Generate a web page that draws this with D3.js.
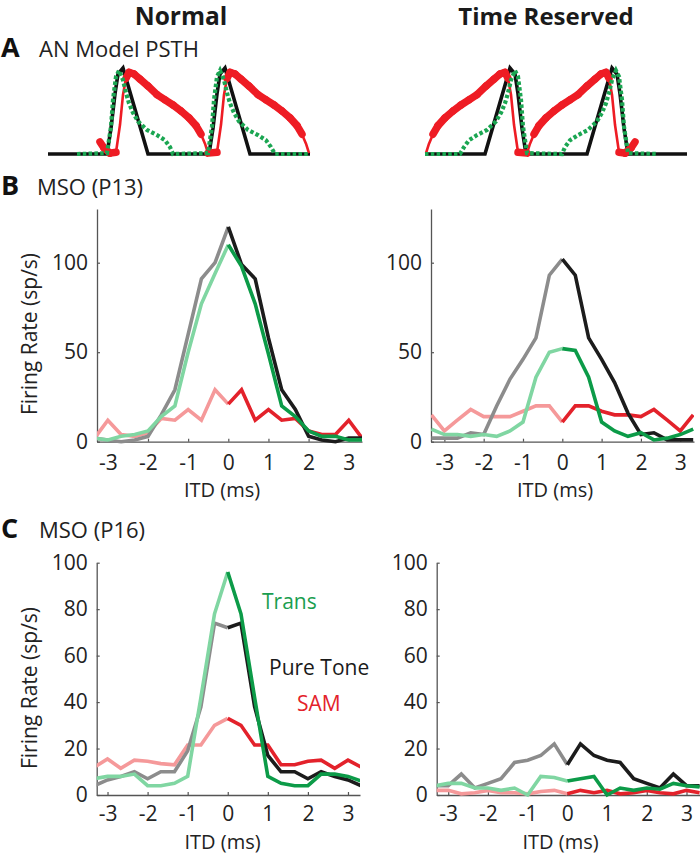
<!DOCTYPE html>
<html><head><meta charset="utf-8">
<script src="https://cdn.jsdelivr.net/npm/d3@7"></script>
<style>
body{margin:0;background:#fff}
svg{display:block}
text{font-family:"Open Sans",sans-serif}
</style>
</head><body>
<svg id="c" width="700" height="855"></svg>
<script>
// ---------- DATA ----------
const itd = [-3.33,-3,-2.67,-2.33,-2,-1.67,-1.33,-1,-0.67,-0.33,0,0.33,0.67,1,1.33,1.67,2,2.33,2.67,3,3.33];
const xTicks = [-3,-2,-1,0,1,2,3];
const xTickLabels = ["-3","-2","-1","0","1","2","3"];
const yTicksB = [0,50,100];
const yTicksC = [0,20,40,60,80,100];

// MSO (P13)
const pureP13Normal  = [2,1,0,1,3,15,29,60,91,100,120,99,91,58,29,18,3,1,0,2,2];
const transP13Normal = [2,1,3,4,6,14,20,50,77,94,110,98,77,49,20,14,6,3,3,1,1];
const samP13Normal   = [2,12,4,3,5,13,12,18,12,29,21,29,12,18,12,13,6,4,4,12,2];
const pureP13TR      = [2,2,2,5,4,20,35,46,58,93,102,93,58,46,33,16,4,5,1,1,1];
const transP13TR     = [7,4,4,3,4,3,6,11,36,50,52,51,36,11,6,3,5,1,2,4,7];
const samP13TR       = [15,6,12,18,14,14,14,17,20,20,11,20,20,17,15,15,14,18,12,6,15];
// MSO (P16)
const pureP16Normal  = [4,6.5,8,10,7,10,10,19,38,74,72,74,38,17,10,10,7,10,8,6.5,4];
const transP16Normal = [7,8,8,9,4,4,5,8,42,78,96,78,42,8,5,4,4,9,9,8,6];
const samP16Normal   = [12,15.5,11.5,15,14.5,13.5,13,21.5,21.5,30,33,30,21.5,21.5,13,13,14.5,15,11.5,15,12];
const pureP16TR      = [4,4,9,3,5,7,14,15,17,22,13,22,17,15,14,7,5,3,9,4,4];
const transP16TR     = [4,5,5,3,3,2,3,0,8,7.5,6,7,8,0,3,2,3,2.5,5,4,3.5];
const samP16TR       = [2,2,0.5,1,2,1,1,0.5,1.5,2,0.5,2,1,2,0.5,1,2,1,0.5,2,1];

// AN model PSTH: [time bin, normalized rate]
const psthPureNormal = [[0,0],[59,0],[63,.3],[67,.7],[70,.93],[75,1],[100,0],[161,0],[165,.3],[169,.7],[172,.93],[177,1],[202,0],[262,0]];
const psthTransNormal = [[29,0],[59,.01],[63,.32],[65,.63],[68,.9],[71,.97],[75,.86],[78,.71],[81,.59],[85,.48],[90,.38],[99,.28],[109,.22],[117,.16],[122,.08],[125,0],[160,.01],[164,.32],[166,.63],[169,.9],[172,.97],[176,.86],[179,.71],[182,.59],[186,.48],[191,.38],[200,.28],[210,.22],[218,.16],[223,.08],[227,0],[262,0]];
const psthSamNormal = [[52,.14],[56,.07],[62,.01],[68,.02],[72,.34],[75,.69],[78,.88],[81,.95],[86,.93],[92,.87],[100,.79],[109,.69],[117,.63],[125,.57],[133,.5],[141,.42],[148,.33],[153,.23],[157,.12],[160,.01],[169,.02],[173,.34],[176,.69],[179,.88],[182,.95],[187,.93],[193,.87],[201,.79],[210,.69],[218,.63],[226,.57],[234,.5],[242,.42],[249,.33],[254,.23],[258,.12],[261,.01]];
const psthPureTR = [[0,0],[60,0],[85,1],[90,.93],[93,.7],[97,.3],[101,0],[162,0],[187,1],[192,.93],[195,.7],[199,.3],[203,0],[262,0]];
const psthTransTR = [[0,0],[35,0],[39,.08],[44,.16],[52,.22],[62,.28],[71,.38],[76,.48],[80,.59],[83,.71],[86,.86],[90,.97],[93,.9],[96,.63],[98,.32],[102,.01],[137,0],[140,.08],[145,.16],[153,.22],[163,.28],[172,.38],[177,.48],[181,.59],[184,.71],[187,.86],[191,.97],[194,.9],[197,.63],[199,.32],[203,.01],[233,0]];
const psthSamTR = [[1,.01],[4,.12],[8,.23],[13,.33],[20,.42],[28,.5],[36,.57],[44,.63],[52,.69],[61,.79],[69,.87],[75,.93],[80,.95],[83,.88],[86,.69],[89,.34],[93,.02],[102,.01],[105,.12],[109,.23],[114,.33],[121,.42],[129,.5],[137,.57],[145,.63],[153,.69],[162,.79],[170,.87],[176,.93],[181,.95],[184,.88],[187,.69],[190,.34],[194,.02],[200,.01],[206,.07],[210,.14]];

// ---------- STYLE ----------
const C = {
  pureDark:"#1c1c1c", pureLight:"#8c8c8c",
  transDark:"#0c9b48", transLight:"#80d6a2",
  samDark:"#e3222b", samLight:"#f5999a",
  axis:"#555", text:"#222"
};

const svg = d3.select("#c");

// ---------- PANEL A ----------
function drawPSTH(xr, pure, trans, sam){
  const x = d3.scaleLinear().domain([0,262]).range(xr);
  const y = d3.scaleLinear().domain([0,1]).range([154,68]);
  const line = d3.line().x(d=>x(d[0])).y(d=>y(d[1]));
  const g = svg.append("g");
  g.append("path").attr("d",line(pure)).attr("fill","none").attr("stroke","#111").attr("stroke-width",3.6);
  // SAM: marker-like band — thick where the curve changes slowly, thin on steep edges
  g.append("path").attr("d",line(sam)).attr("fill","none").attr("stroke","#ee1c24").attr("stroke-width",2.6).attr("stroke-linejoin","round");
  const segs = d3.pairs(sam).filter(([a,b])=>{
    const dx = Math.abs(x(b[0])-x(a[0])), dy = Math.abs(y(b[1])-y(a[1]));
    return dy <= 2.2*dx;
  });
  g.append("g").selectAll("path").data(segs).join("path")
    .attr("d",d=>line(d)).attr("fill","none").attr("stroke","#ee1c24")
    .attr("stroke-width",7.5).attr("stroke-linecap","round");
  g.append("path").attr("d",line(trans)).attr("fill","none").attr("stroke","#1ba652").attr("stroke-width",4.2).attr("stroke-dasharray","3.5,2.3");
}
drawPSTH([48,310], psthPureNormal, psthTransNormal, psthSamNormal);
drawPSTH([425,687], psthPureTR, psthTransTR, psthSamTR);

// ---------- PANELS B & C ----------
let clipId = 0;
function drawPanel(cfg){
  const x = d3.scaleLinear().domain(cfg.xd).range(cfg.xr);
  const y = d3.scaleLinear().domain(cfg.yd).range(cfg.yr);
  const g = svg.append("g");
  const id = "clip"+(clipId++);
  svg.append("defs").append("clipPath").attr("id",id).append("rect")
    .attr("x",cfg.xr[0]).attr("y",cfg.yr[1]-10).attr("width",cfg.xr[1]-cfg.xr[0]).attr("height",cfg.yr[0]-cfg.yr[1]+20);

  const xAxis = d3.axisBottom(x).tickValues(xTicks).tickFormat((d,i)=>xTickLabels[i])
    .tickSizeInner(-3).tickSizeOuter(0).tickPadding(cfg.pad);
  const yAxis = d3.axisLeft(y).tickValues(cfg.yt).tickSizeInner(-3).tickSizeOuter(0).tickPadding(9);
  const gx = g.append("g").attr("transform",`translate(0,${cfg.yr[0]})`).call(xAxis);
  const gy = g.append("g").attr("transform",`translate(${cfg.xr[0]},0)`).call(yAxis);
  [gx,gy].forEach(a=>{
    a.select(".domain").attr("stroke",C.axis).attr("stroke-width",1.3);
    a.selectAll(".tick line").attr("stroke",C.axis).attr("stroke-width",1.2);
    a.selectAll(".tick text").attr("fill",C.text).attr("font-size",21).attr("font-family","Open Sans");
  });

  const lg = g.append("g").attr("clip-path",`url(#${id})`);
  const series = [
    [cfg.sam, C.samLight, C.samDark],
    [cfg.pure, C.pureLight, C.pureDark],
    [cfg.trans, C.transLight, C.transDark]
  ];
  const negIdx = d3.range(0,11), posIdx = d3.range(10,21);
  series.forEach(([vals, light, dark])=>{
    const ln = d3.line().x(i=>x(itd[i])).y(i=>y(vals[i]));
    lg.append("path").attr("d",ln(negIdx)).attr("fill","none").attr("stroke",light).attr("stroke-width",3.6);
    lg.append("path").attr("d",ln(posIdx)).attr("fill","none").attr("stroke",dark).attr("stroke-width",3.6);
  });

  g.append("text").attr("x",cfg.lx).attr("y",cfg.ly).attr("text-anchor","middle")
    .attr("font-size",20).attr("fill",C.text).text("ITD (ms)");
  if(cfg.ylab){
    g.append("text").attr("transform",`translate(37,${cfg.ylab}) rotate(-90)`).attr("text-anchor","middle")
      .attr("font-size",21).attr("fill",C.text).text("Firing Rate (sp/s)");
  }
}

drawPanel({xd:[-3.27,3.33], xr:[97,362], yd:[0,130], yr:[441.7,209], yt:yTicksB, pad:13,
  pure:pureP13Normal, trans:transP13Normal, sam:samP13Normal, lx:222, ly:497, ylab:334});
drawPanel({xd:[-3.34,3.35], xr:[431,694], yd:[0,130], yr:[441.7,209], yt:yTicksB, pad:13,
  pure:pureP13TR, trans:transP13TR, sam:samP13TR, lx:555, ly:497});
drawPanel({xd:[-3.27,3.3], xr:[96.7,360], yd:[0,100], yr:[795,562.7], yt:yTicksC, pad:11,
  pure:pureP16Normal, trans:transP16Normal, sam:samP16Normal, lx:222.5, ly:849, ylab:688});
drawPanel({xd:[-3.29,3.34], xr:[436.7,700], yd:[0,100], yr:[795,562.7], yt:yTicksC, pad:11,
  pure:pureP16TR, trans:transP16TR, sam:samP16TR, lx:560.5, ly:849});

// ---------- TITLES & LABELS ----------
function txt(x,y,s,opt={}){
  svg.append("text").attr("x",x).attr("y",y).attr("font-size",opt.size||22)
    .attr("font-weight",opt.bold?"bold":"normal").attr("fill",opt.fill||C.text)
    .attr("font-family",opt.font||"Open Sans")
    .attr("text-anchor",opt.anchor||"start").text(s);
}
txt(181,24.5,"Normal",{size:24.5,bold:true,anchor:"middle",fill:"#1a1a1a",font:"DejaVu Sans"});
txt(546,24.5,"Time Reserved",{size:24,bold:true,anchor:"middle",fill:"#1a1a1a",font:"DejaVu Sans"});
txt(1,57,"A",{size:27,bold:true,fill:"#111"});
txt(39,57,"AN Model PSTH",{size:22});
txt(1,195,"B",{size:27,bold:true,fill:"#111"});
txt(37,195,"MSO (P13)",{size:22});
txt(1,538,"C",{size:27,bold:true,fill:"#111"});
txt(39,538,"MSO (P16)",{size:22});
txt(262,609,"Trans",{size:21,fill:"#1a9e50"});
txt(269,675,"Pure Tone",{size:21,fill:"#1a1a1a"});
txt(297,711,"SAM",{size:21,fill:"#e3222b"});
</script>
</body></html>
